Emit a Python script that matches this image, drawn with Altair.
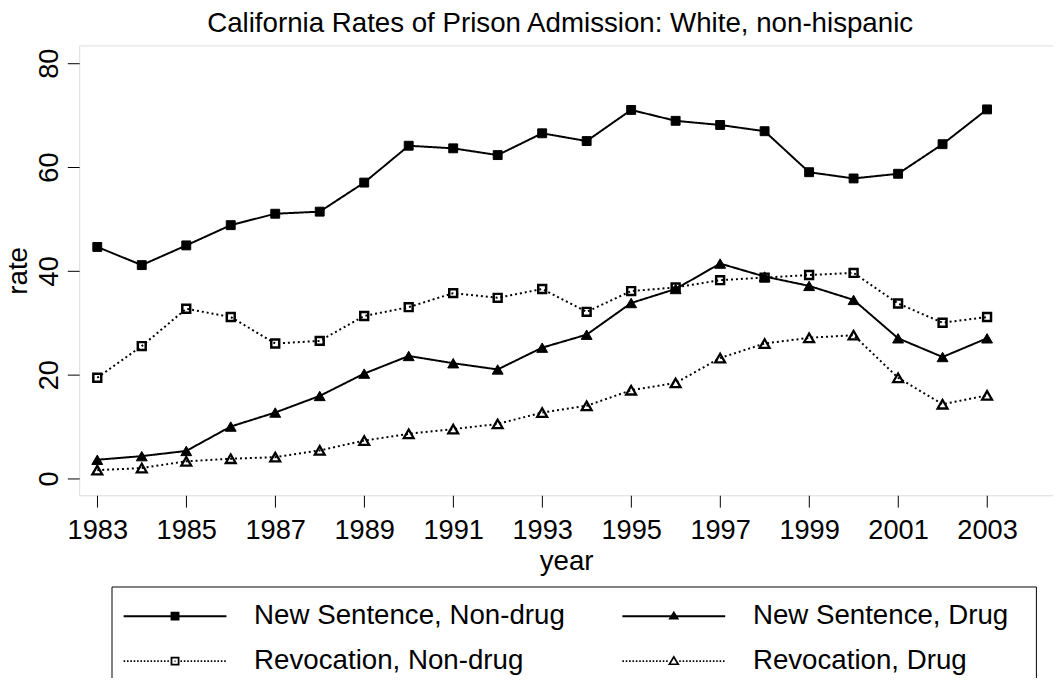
import altair as alt
import pandas as pd

# ---------------- data ----------------
years = list(range(1983, 2004))
new_nondrug = [44.6, 41.1, 44.9, 48.8, 51.0, 51.4, 57.0, 64.1, 63.6, 62.3, 66.5,
               65.0, 71.0, 68.9, 68.1, 66.9, 59.0, 57.8, 58.7, 64.4, 71.1]
new_drug = [3.6, 4.3, 5.3, 10.0, 12.7, 15.9, 20.2, 23.6, 22.2, 21.0, 25.2,
            27.7, 33.8, 36.5, 41.4, 38.9, 37.1, 34.4, 27.0, 23.4, 27.0]
rev_nondrug = [19.4, 25.5, 32.7, 31.1, 26.0, 26.5, 31.3, 33.0, 35.7, 34.8, 36.5,
               32.1, 36.1, 36.8, 38.2, 38.7, 39.2, 39.6, 33.7, 30.0, 31.1]
rev_drug = [1.6, 2.0, 3.3, 3.8, 4.1, 5.4, 7.3, 8.6, 9.5, 10.5, 12.7,
            14.0, 17.0, 18.4, 23.2, 26.0, 27.1, 27.6, 19.4, 14.3, 16.0]
series_names = ["New Sentence, Non-drug", "New Sentence, Drug",
                "Revocation, Non-drug", "Revocation, Drug"]
x_ticks = list(range(1983, 2004, 2))
y_ticks = [0, 20, 40, 60, 80]
title_text = "California Rates of Prison Admission: White, non-hispanic"

rows = []
for name, vals in zip(series_names, [new_nondrug, new_drug, rev_nondrug, rev_drug]):
    for yr, v in zip(years, vals):
        rows.append({"year": yr, "rate": v, "series": name})
df = pd.DataFrame(rows)

FONT = "Liberation Sans"

# ---------------- styles per series ----------------
styles = {
    "New Sentence, Non-drug": dict(dash=[1, 0], shape="square", fill="black", size=81, sw=1),
    "New Sentence, Drug": dict(dash=[1, 0], shape="triangle-up", fill="black", size=121, sw=1),
    "Revocation, Non-drug": dict(dash=[2, 3], shape="square", fill="transparent", size=64, sw=2.5),
    "Revocation, Drug": dict(dash=[2, 3], shape="triangle-up", fill="transparent", size=100, sw=2.3),
}

# ---------------- legend symbols (line + marker, drawn as filled shapes) ----------------
def dotted(x0, x1, period=3.4, length=1.6):
    segs = []
    x = x0
    while x + length <= x1 + 0.01:
        segs.append(f"M{x:.2f},-0.8h{length}v1.6h-{length}Z")
        x += period
    return "".join(segs)

solid_line = "M-9,-1H95V1H-9Z"
dot_line = dotted(-9, 37.5) + dotted(48.5, 95)
sq_filled = "M38.5,-4.5H47.5V4.5H38.5Z"
tri_filled = "M43,-5.5L48.5,3.5L37.5,3.5Z"
sq_hollow = "M38.5,-4.5H47.5V4.5H38.5ZM40.3,-2.7V2.7H45.7V-2.7ZM42.4,-0.6H43.6V0.6H42.4Z"
tri_hollow = "M43,-6L49,4L37,4ZM43,-2.7L40,2.3L46,2.3Z"
legend_paths = [solid_line + sq_filled, solid_line + tri_filled,
                dot_line + sq_hollow, dot_line + tri_hollow]

# ---------------- scales / axes ----------------
W, H = 985, 455
x_scale = alt.Scale(domain=[1982.5933, 1982.5933 + W / 45.0], nice=False, zero=False)
y_scale = alt.Scale(domain=[-3.238, 83.429], nice=False, zero=False)

x_enc = alt.X("year:Q", scale=x_scale,
              axis=alt.Axis(values=x_ticks, format="d", title="year",
                            tickSize=12, tickColor="black", tickWidth=1,
                            domain=False, grid=False, labelFlush=False,
                            labelOverlap=False,
                            labelFont=FONT, labelFontSize=27.5, labelColor="black",
                            labelPadding=10.2,
                            titleFont=FONT, titleFontSize=28, titleFontWeight="normal",
                            titleColor="black", titleBaseline="alphabetic",
                            titleY=75))
y_enc = alt.Y("rate:Q", scale=y_scale,
              axis=alt.Axis(values=y_ticks, title="rate",
                            tickSize=12, tickColor="black", tickWidth=1,
                            domain=False, grid=False, labelFlush=False,
                            labelOverlap=False,
                            labelAngle=270, labelAlign="center",
                            labelBaseline="alphabetic", labelPadding=9.7,
                            labelFont=FONT, labelFontSize=27.5, labelColor="black",
                            titleFont=FONT, titleFontSize=28, titleFontWeight="normal",
                            titleColor="black", titleAngle=270, titleAlign="center",
                            titleBaseline="alphabetic", titleX=-53.3, titleY=H / 2))

base = alt.Chart(df)

layers = []
for name in series_names:
    st = styles[name]
    sub = base.transform_filter(alt.datum.series == name)
    layers.append(
        sub.mark_line(color="black", strokeWidth=2, strokeDash=st["dash"]).encode(
            x=x_enc, y=y_enc, order="year:Q")
    )
for name in series_names:
    st = styles[name]
    sub = base.transform_filter(alt.datum.series == name)
    layers.append(
        sub.mark_point(shape=st["shape"], filled=True, fill=st["fill"], stroke="black",
                       strokeWidth=st["sw"], size=st["size"], opacity=1).encode(
            x=x_enc, y=y_enc)
    )

legend_layer = base.transform_filter("false").mark_point(
    filled=True, color="black", opacity=1
).encode(
    shape=alt.Shape("series:N",
                    scale=alt.Scale(domain=series_names, range=legend_paths),
                    legend=alt.Legend(
                        title=" ", titleOrient="right", titlePadding=12,
                        titleFont=FONT, titleFontSize=28,
                        orient="none", legendX=32.7, legendY=547.3,
                        direction="horizontal",
                        columns=2, padding=16, rowPadding=17.5, columnPadding=57.5,
                        symbolOffset=-8.75, labelOffset=109,
                        symbolSize=4, symbolStrokeWidth=0,
                        symbolFillColor="black",
                        labelFont=FONT, labelFontSize=28, labelColor="black",
                        labelLimit=1000,
                        strokeColor="black", fillColor="white",
                    )),
)
layers.append(legend_layer)

chart = alt.layer(*layers).properties(
    width=W, height=H,
    title=alt.Title(title_text, font=FONT, fontSize=28, fontWeight="normal",
                    color="black", anchor="middle", baseline="alphabetic",
                    offset=12, frame="group", dx=-6, dy=26),
    autosize=alt.AutoSizeParams(type="none"),
    padding={"left": 72, "top": 34, "right": 0, "bottom": 181},
).configure_view(stroke="black", strokeWidth=1).configure(background="white")

chart.save("out.html", embed_options={"renderer": "svg", "actions": False})
